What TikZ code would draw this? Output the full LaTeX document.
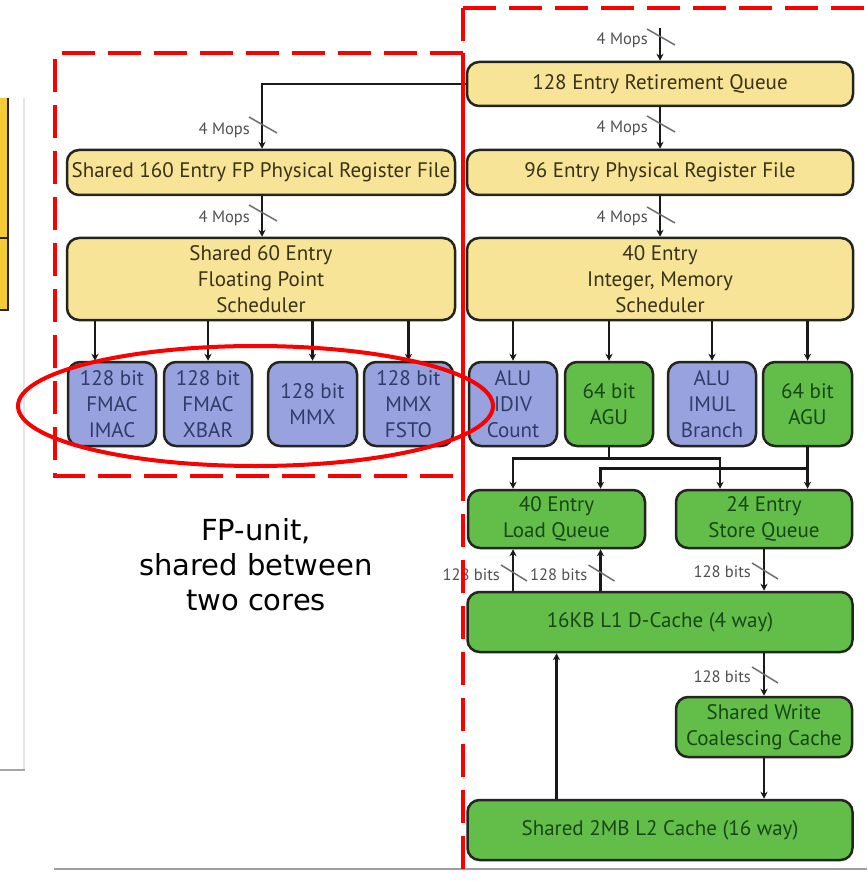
\documentclass[tikz,border=0pt]{standalone}
\usepackage{fontspec}
\setmainfont{PT Sans}
\newfontfamily\capfont{DejaVu Sans}
\usetikzlibrary{arrows.meta,calc}
\definecolor{yfill}{RGB}{248,228,150}
\definecolor{gfill}{RGB}{98,190,72}
\definecolor{bfill}{RGB}{152,162,222}
\definecolor{ytext}{RGB}{55,50,25}
\definecolor{gtext}{RGB}{25,70,25}
\definecolor{btext}{RGB}{50,58,105}
\definecolor{boxline}{RGB}{35,38,30}
\definecolor{arrcol}{RGB}{25,25,25}
\definecolor{slashcol}{RGB}{110,110,110}
\definecolor{lblcol}{RGB}{80,80,80}
\definecolor{gold}{RGB}{245,202,55}
\definecolor{redline}{RGB}{250,0,0}
\tikzset{
 blk/.style={draw=boxline, line width=2.5pt, rounded corners=12pt, inner sep=0pt, align=center, font=\fontsize{21}{26}\selectfont},
 ylw/.style={blk, fill=yfill, text=ytext},
 grn/.style={blk, fill=gfill, text=gtext},
 blu/.style={blk, fill=bfill, text=btext},
 arr/.style={draw=arrcol, line width=2.5pt, -{Stealth[length=7pt,width=7pt]}},
 conn/.style={draw=arrcol, line width=2.5pt},
 slashmk/.style={draw=slashcol, line width=1.5pt},
 lbl/.style={font=\fontsize{16.5}{16.5}\selectfont, text=lblcol, inner sep=0pt, anchor=east},
 reddash/.style={draw=redline, line width=4pt, dash pattern=on 33pt off 13pt},
}
\begin{document}
\begin{tikzpicture}[x=1pt,y=-1pt]
\useasboundingbox (0,0) rectangle (867,882);
\fill[white] (0,0) rectangle (867,882);

% left remnants
\fill[gold] (0,98) rectangle (8,310);
\draw[boxline, line width=2pt] (8,98) -- (8,310) -- (0,310);
\draw[boxline, line width=2pt] (0,238) -- (8,238);
\draw[gray!20, line width=2pt] (24,98) -- (24,770);
\draw[gray!70, line width=2pt] (0,770) -- (25,770);
\draw[gray!75, line width=2pt] (54,869) -- (867,869);

% integer side
\node[ylw, minimum width=386, minimum height=44] (rq) at (660,84) {128 Entry Retirement Queue};
\node[ylw, minimum width=386, minimum height=45] (prf) at (660,172.5) {96 Entry Physical Register File};
\node[ylw, minimum width=386, minimum height=82] (isch) at (660,279) {40 Entry\\Integer, Memory\\Scheduler};
% FP side
\node[ylw, minimum width=388, minimum height=45] (fprf) at (261,172.5) {Shared 160 Entry FP Physical Register File};
\node[ylw, minimum width=388, minimum height=82] (fpsch) at (261,279) {Shared 60 Entry\\Floating Point\\Scheduler};

% execution units
\node[blu, minimum width=88, minimum height=84] (u1) at (112,404) {128 bit\\FMAC\\IMAC};
\node[blu, minimum width=88, minimum height=84] (u2) at (208,404) {128 bit\\FMAC\\XBAR};
\node[blu, minimum width=89, minimum height=84] (u3) at (312.5,404) {128 bit\\MMX};
\node[blu, minimum width=89, minimum height=84] (u4) at (408.5,404) {128 bit\\MMX\\FSTO};
\node[blu, minimum width=88, minimum height=84] (u5) at (513,404) {ALU\\IDIV\\Count};
\node[grn, minimum width=88, minimum height=84] (u6) at (609,404) {64 bit\\AGU};
\node[blu, minimum width=88, minimum height=84] (u7) at (712,404) {ALU\\IMUL\\Branch};
\node[grn, minimum width=89, minimum height=84] (u8) at (807.5,404) {64 bit\\AGU};

% memory
\node[grn, minimum width=177, minimum height=58] (lq) at (556.5,519) {40 Entry\\Load Queue};
\node[grn, minimum width=176, minimum height=58] (sq) at (764,519) {24 Entry\\Store Queue};
\node[grn, minimum width=385, minimum height=60] (l1) at (660,622) {16KB L1 D-Cache (4 way)};
\node[grn, minimum width=176, minimum height=60] (swcc) at (764,727) {Shared Write\\Coalescing Cache};
\node[grn, minimum width=385, minimum height=60] (l2) at (660,830) {Shared 2MB L2 Cache (16 way)};

% top connectors
\coordinate (topin) at (660,28);
\draw[arr] (topin) -- (rq.north);
\draw[arr] (rq.south) -- (prf.north);
\draw[arr] (prf.south) -- (isch.north);
\coordinate (fpturn) at (262,84);
\draw[arr] (rq.west) -- (fpturn) -- (fprf.north -| fpturn);
\draw[arr] (fprf.south -| fpturn) -- (fpsch.north -| fpturn);

% 4 Mops labels + slashes
\foreach \xa/\yl/\ys in {660/40/37, 660/128/124, 660/218/215, 262/130/125, 262/218/213} {
  \node[lbl] at (\xa-12,\yl) {4 Mops};
  \draw[slashmk] (\xa-13,\ys-8) -- (\xa+15,\ys+8);
}

% scheduler to units
\coordinate (a1) at ([xshift=-17]u1.north);
\draw[arr] (fpsch.south -| a1) -- (a1);
\foreach \u in {u2,u3,u4} { \draw[arr] (fpsch.south -| \u.north) -- (\u.north); }
\foreach \u in {u5,u6,u7,u8} { \draw[arr] (isch.south -| \u.north) -- (\u.north); }

% AGU routing
\coordinate (h1) at ($(u6.south)+(0,11)$);
\coordinate (h2) at ($(u8.south)+(0,21)$);
\coordinate (lqa) at ([xshift=-43.5]lq.north);
\coordinate (lqb) at ([xshift=44]lq.north);
\coordinate (sqa) at ([xshift=-44]sq.north);
\draw[conn] (u6.south) -- (h1);
\draw[arr] (h1) -| (lqa);
\draw[arr] (h1) -| (sqa);
\draw[arr] (u8.south) -- (sq.north -| u8.south);
\draw[arr] (h2) -| (lqb);

% L1 connections
\draw[arr] (l1.north -| lqa) -- (lq.south -| lqa);
\draw[arr] (l1.north -| lqb) -- (lq.south -| lqb);
\draw[arr] (sq.south) -- (l1.north -| sq.south);
\draw[arr] (l1.south -| swcc.north) -- (swcc.north);
\draw[arr] (swcc.south) -- (l2.north -| swcc.south);
\draw[arr] (l2.north -| lq.south) -- (l1.south -| lq.south);

% 128 bits labels + slashes
\foreach \xa/\yl/\ys in {513/575/573, 600.5/575/573, 764/572/571, 764/677/675} {
  \node[lbl] at (\xa-13,\yl) {128 bits};
  \draw[slashmk] (\xa-12,\ys-8) -- (\xa+14,\ys+8);
}

% FP-unit caption
\node[font=\capfont\fontsize{29}{35}\selectfont, align=center, inner sep=0pt] (cap) at (256,565) {FP-unit,\\shared between\\two cores};

% red annotations
\draw[reddash] (463,53) -- (55,53) -- (55,476) -- (463,476);
\draw[reddash] (463,8) -- (463,882);
\draw[reddash] (463,8) -- (867,8);
\draw[redline, line width=4pt] (463,53) -- (463,497);
\draw[redline, line width=4pt] (255.5,406) ellipse [x radius=237.5, y radius=60];
\end{tikzpicture}
\end{document}
